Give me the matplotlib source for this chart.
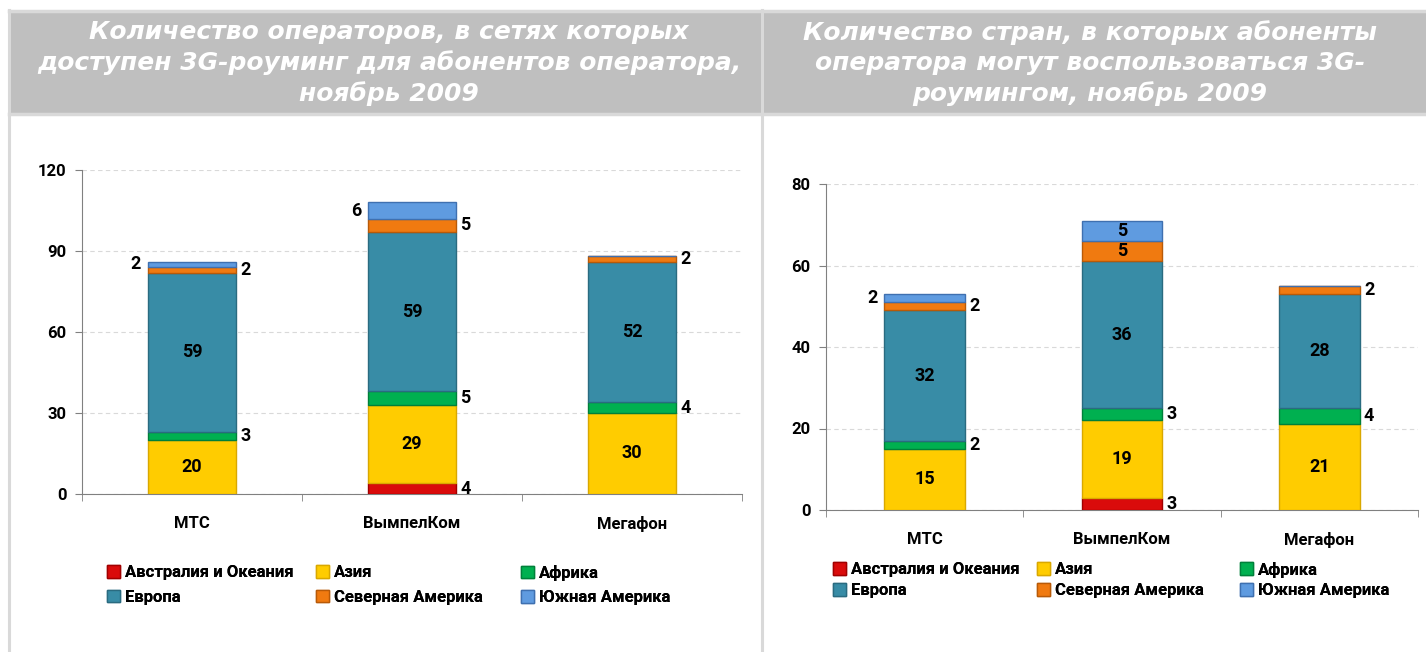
import matplotlib.pyplot as plt
from matplotlib.patches import Rectangle, Patch
from matplotlib.lines import Line2D

# данные
operators = ['МТС', 'ВымпелКом', 'Мегафон']
regions = ['Австралия и Океания', 'Азия', 'Африка', 'Европа',
           'Северная Америка', 'Южная Америка']

# количество операторов (левая диаграмма)
ops_australia = [0, 4, 0]
ops_asia = [20, 29, 30]
ops_africa = [3, 5, 4]
ops_europe = [59, 59, 52]
ops_n_america = [2, 5, 2]
ops_s_america = [2, 6, 0]

# количество стран (правая диаграмма)
cnt_australia = [0, 3, 0]
cnt_asia = [15, 19, 21]
cnt_africa = [2, 3, 4]
cnt_europe = [32, 36, 28]
cnt_n_america = [2, 5, 2]
cnt_s_america = [2, 5, 0]

left_ticks = [0, 30, 60, 90, 120]
right_ticks = [0, 20, 40, 60, 80]

left_title = ('Количество операторов, в сетях которых\n'
              'доступен 3G-роуминг для абонентов оператора,\nноябрь 2009')
right_title = ('Количество стран, в которых абоненты\n'
               'оператора могут воспользоваться 3G-\nроумингом, ноябрь 2009')

colors = ['#DA0B0B', '#FFCC00', '#00B050', '#388CA6', '#F07A10', '#5F9BE0']
edges = ['#A00000', '#D9A800', '#00803A', '#2A6B80', '#B85A08', '#3F70B0']

FONT = ['Roboto', 'DejaVu Sans']
plt.rcParams['font.family'] = FONT

W, H = 1426, 652
fig = plt.figure(figsize=(W / 100, H / 100), dpi=100)


def fx(px):
    return px / W


def fy(py):
    return 1 - py / H


# рамки и серые полосы заголовков
border = '#D9D9D9'
fig.patches.append(Rectangle((fx(10), fy(113)), fx(762 - 10), 100 / H,
                             transform=fig.transFigure, color='#BFBFBF', zorder=0))
fig.patches.append(Rectangle((fx(762), fy(113)), fx(W - 762), 100 / H,
                             transform=fig.transFigure, color='#BFBFBF', zorder=0))
for x0 in [9, 762]:
    fig.add_artist(Line2D([fx(x0), fx(x0)], [fy(10), 0], transform=fig.transFigure,
                          color=border, lw=2.2))
fig.add_artist(Line2D([fx(9), 1], [fy(11), fy(11)], transform=fig.transFigure,
                      color=border, lw=2.5))
fig.add_artist(Line2D([fx(9), 1], [fy(114), fy(114)], transform=fig.transFigure,
                      color=border, lw=2.5))

title_kw = dict(ha='center', va='center', color='white', family='DejaVu Sans',
                weight='bold', style='italic', fontsize=18, linespacing=1.33)
fig.text(fx(389), fy(63), left_title, **title_kw)
fig.text(fx(1090), fy(63), right_title, **title_kw)


def draw(rect, series, ymax, yticks, width, inside_px):
    ax = fig.add_axes(rect)
    x = range(len(operators))
    bottom = [0] * len(operators)
    ax_h_px = rect[3] * H
    for i, vals in enumerate(series):
        ax.bar(x, vals, width, bottom=bottom, color=colors[i], edgecolor=edges[i],
               linewidth=1, zorder=3)
        for j, v in enumerate(vals):
            if v == 0:
                continue
            mid = bottom[j] + v / 2
            seg_px = v / ymax * ax_h_px
            if i in (1, 3) or seg_px >= inside_px:
                ax.text(j, mid, str(v), ha='center', va='center', fontsize=13,
                        weight='bold', zorder=4)
            elif i == 5:
                ax.annotate(str(v), (j - width / 2, mid), xytext=(-5, 0),
                            textcoords='offset points', ha='right', va='center',
                            fontsize=13, weight='bold')
            else:
                ax.annotate(str(v), (j + width / 2, mid), xytext=(3, 0),
                            textcoords='offset points', ha='left', va='center',
                            fontsize=13, weight='bold')
        bottom = [b + v for b, v in zip(bottom, vals)]

    ax.set_xlim(-0.5, len(operators) - 0.5)
    ax.set_ylim(0, ymax)
    ax.set_yticks(yticks)
    ax.set_yticklabels([str(t) for t in yticks], fontsize=12, weight='bold')
    ax.set_xticks(list(x))
    ax.set_xticklabels(operators, fontsize=12, weight='bold')
    ax.set_xticks([-0.5, 0.5, 1.5, 2.5], minor=True)
    ax.tick_params(axis='x', which='major', length=0, pad=16)
    ax.tick_params(axis='x', which='minor', length=5, color='#808080')
    ax.tick_params(axis='y', length=5, color='#808080', pad=6)
    ax.grid(axis='y', color='#D9D9D9', linestyle=(0, (4, 3)), linewidth=0.8, zorder=0)
    for s in ['top', 'right']:
        ax.spines[s].set_visible(False)
    for s in ['left', 'bottom']:
        ax.spines[s].set_color('#808080')
    return ax


left_series = [ops_australia, ops_asia, ops_africa, ops_europe, ops_n_america, ops_s_america]
right_series = [cnt_australia, cnt_asia, cnt_africa, cnt_europe, cnt_n_america, cnt_s_america]

ax1 = draw([fx(82), fy(494), fx(742 - 82), (494 - 170) / H], left_series, 120,
           left_ticks, 0.40, 18)
ax2 = draw([fx(826), fy(510), fx(1418 - 826), (510 - 184) / H], right_series, 80,
           right_ticks, 0.41, 18)


# легенды: три колонки по два элемента
def legend_block(xs, y_mid, spacing):
    handles = [Patch(facecolor=colors[i], edgecolor=edges[i]) for i in range(6)]
    for c, xpx in enumerate(xs):
        idx = [c, c + 3]
        leg = fig.legend([handles[k] for k in idx], [regions[k] for k in idx],
                         loc='center left', bbox_to_anchor=(fx(xpx), fy(y_mid)),
                         frameon=False, ncol=1, handlelength=0.8, handleheight=0.8,
                         handletextpad=0.3, labelspacing=spacing, borderpad=0,
                         borderaxespad=0,
                         prop={'family': FONT, 'weight': 'bold', 'size': 12})
        fig.add_artist(leg)


legend_block([107, 316, 521], 585, 0.55)
legend_block([833, 1037, 1240], 580, 0.35)

fig.savefig('out.png', dpi=100, facecolor='white')
